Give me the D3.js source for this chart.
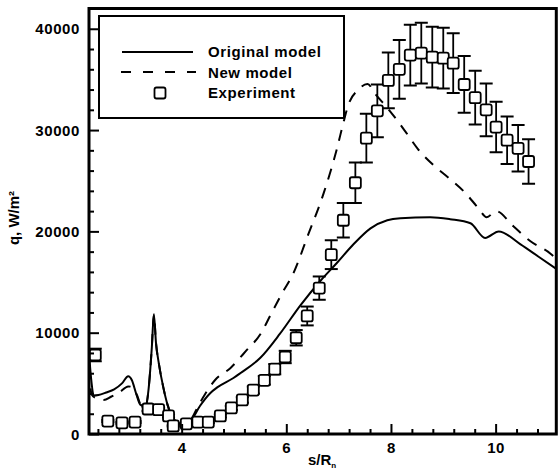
<!DOCTYPE html>
<html>
<head>
<meta charset="utf-8">
<script src="https://cdn.jsdelivr.net/npm/d3@7"></script>
<style>
  html, body { margin: 0; padding: 0; background: #fff; }
  svg text { font-family: "Liberation Sans", Arial, Helvetica, sans-serif; font-weight: bold; fill: #000; }
</style>
</head>
<body>
<svg id="chart" width="559" height="472"></svg>
<script>
// Surface heat flux along the body, s/Rn
const originalX = [2.22, 2.26, 2.31, 2.4, 2.55, 2.7, 2.85, 2.97, 3.04, 3.12, 3.2, 3.3, 3.36, 3.42, 3.46, 3.5, 3.56, 3.64, 3.72, 3.8, 3.92, 4.05, 4.18, 4.34, 4.54, 4.67, 4.98, 5.11, 5.49, 5.87, 6.26, 6.64, 6.96, 7.27, 7.6, 7.92, 8.17, 8.74, 9.12, 9.51, 9.79, 10.05, 10.46, 10.84, 11.15];
const originalQ = [8000, 5500, 3800, 3850, 4100, 4400, 5000, 5700, 5300, 4000, 2900, 2700, 4500, 8500, 11800, 9000, 6800, 4600, 2900, 1800, 1100, 900, 1400, 2760, 4050, 4600, 5530, 6000, 7500, 9900, 12700, 15100, 16900, 18700, 20300, 21100, 21300, 21400, 21200, 20800, 19350, 20000, 18750, 17400, 16300];

const newX = [2.22, 2.27, 2.35, 2.5, 2.65, 2.8, 2.97, 3.06, 3.14, 3.22, 3.3, 3.36, 3.42, 3.46, 3.5, 3.56, 3.64, 3.72, 3.8, 3.92, 4.05, 4.18, 4.3, 4.44, 4.63, 4.92, 5.22, 5.51, 5.68, 5.91, 6.12, 6.41, 6.7, 6.96, 7.08, 7.17, 7.37, 7.54, 7.7, 7.92, 8.26, 8.51, 8.8, 9.09, 9.41, 9.66, 9.82, 10.0, 10.33, 10.65, 11.04, 11.15];
const newQ = [6500, 3900, 3550, 3350, 3700, 4100, 4700, 4600, 3800, 2800, 2700, 4500, 8500, 11800, 9000, 6800, 4600, 2900, 1800, 1100, 900, 1500, 2700, 3950, 5330, 6500, 8200, 9970, 11650, 13900, 15800, 19700, 23700, 28200, 30700, 32400, 34000, 34550, 33500, 32200, 29900, 28100, 26550, 25300, 23800, 22300, 21400, 22000, 20500, 19050, 17800, 17300];

const expX = [2.34, 2.58, 2.85, 3.1, 3.35, 3.55, 3.74, 3.83, 4.08, 4.3, 4.5, 4.73, 4.94, 5.15, 5.36, 5.57, 5.77, 5.97, 6.18, 6.39, 6.62, 6.85, 7.08, 7.31, 7.52, 7.73, 7.94, 8.15, 8.36, 8.57, 8.78, 8.99, 9.18, 9.39, 9.6, 9.81, 10.0, 10.21, 10.42, 10.62];
const expQ = [7800, 1280, 1100, 1180, 2470, 2400, 1780, 800, 1000, 1180, 1180, 1780, 2570, 3360, 4340, 5300, 6400, 7600, 9500, 11650, 14400, 17700, 21100, 24800, 29200, 31900, 34900, 36000, 37400, 37600, 37200, 37100, 36600, 34500, 33200, 32000, 30300, 29000, 28200, 26900];
const expErr = [620, 100, 90, 95, 200, 190, 140, 65, 80, 95, 95, 140, 205, 270, 350, 425, 510, 610, 760, 930, 1150, 1420, 1700, 2000, 2400, 2600, 2750, 2900, 3000, 3000, 3000, 3000, 2950, 2800, 2650, 2600, 2500, 2350, 2300, 2200];

const yMajor = [0, 10000, 20000, 30000, 40000];
const xMajor = [4, 6, 8, 10];
const legendLabels = ["Original model", "New model", "Experiment"];

const svg = d3.select("#chart");
const x = d3.scaleLinear().domain([2.22, 11.15]).range([89, 556.3]);
const y = d3.scaleLinear().domain([0, 42000]).range([434, 8.5]);

const plot = svg.append("g");
svg.append("clipPath").attr("id", "plotclip")
  .append("rect").attr("x", x(2.22)).attr("y", y(42000))
  .attr("width", x(11.15) - x(2.22)).attr("height", y(0) - y(42000));

const marks = plot.append("g").attr("clip-path", "url(#plotclip)");

const curve = d3.line().x(d => x(d[0])).y(d => y(d[1])).curve(d3.curveMonotoneX);

marks.append("path")
  .datum(originalX.map((v, i) => [v, originalQ[i]]))
  .attr("d", curve)
  .attr("fill", "none").attr("stroke", "#000").attr("stroke-width", 2);

marks.append("path")
  .datum(newX.map((v, i) => [v, newQ[i]]))
  .attr("d", curve)
  .attr("fill", "none").attr("stroke", "#000").attr("stroke-width", 2)
  .attr("stroke-dasharray", "11,9");

// error bars
const exp = expX.map((v, i) => ({ s: v, q: expQ[i], e: expErr[i] }));
const eb = marks.append("g").selectAll("g").data(exp).join("g");
eb.append("line")
  .attr("x1", d => x(d.s)).attr("x2", d => x(d.s))
  .attr("y1", d => y(d.q + d.e)).attr("y2", d => y(d.q - d.e))
  .attr("stroke", "#000").attr("stroke-width", 1.8);
eb.append("line")
  .attr("x1", d => x(d.s) - 6.5).attr("x2", d => x(d.s) + 6.5)
  .attr("y1", d => y(d.q + d.e)).attr("y2", d => y(d.q + d.e))
  .attr("stroke", "#000").attr("stroke-width", 2);
eb.append("line")
  .attr("x1", d => x(d.s) - 6.5).attr("x2", d => x(d.s) + 6.5)
  .attr("y1", d => y(d.q - d.e)).attr("y2", d => y(d.q - d.e))
  .attr("stroke", "#000").attr("stroke-width", 2);

// experiment squares
const sq = 11;
marks.append("g").selectAll("rect").data(exp).join("rect")
  .attr("x", d => x(d.s) - sq / 2).attr("y", d => y(d.q) - sq / 2)
  .attr("width", sq).attr("height", sq).attr("rx", 2)
  .attr("fill", "#fff").attr("stroke", "#000").attr("stroke-width", 1.8);

// frame
plot.append("rect")
  .attr("x", x(2.22)).attr("y", y(42000))
  .attr("width", x(11.15) - x(2.22)).attr("height", y(0) - y(42000))
  .attr("fill", "none").attr("stroke", "#000").attr("stroke-width", 3);

// y axis ticks (inward)
const yAxis = d3.axisRight(y)
  .tickValues(d3.range(0, 42001, 2000))
  .tickSize(0).tickFormat("");
const gy = plot.append("g").attr("transform", `translate(${x(2.22)},0)`).call(yAxis);
gy.select(".domain").remove();
gy.selectAll(".tick").append("line")
  .attr("x1", 0).attr("x2", d => yMajor.includes(d) ? 10 : 5)
  .attr("stroke", "#000").attr("stroke-width", 2);
plot.append("g").selectAll("text").data(yMajor).join("text")
  .attr("x", 80).attr("y", d => y(d) + 5.5)
  .attr("text-anchor", "end")
  .style("font-size", "15px").style("letter-spacing", "0.6px")
  .text(d => d);

// x axis ticks (inward)
const xMinor = d3.range(2.4, 11.15, 0.4).map(v => +v.toFixed(2));
const gx = plot.append("g");
gx.selectAll("line").data(xMinor).join("line")
  .attr("x1", d => x(d)).attr("x2", d => x(d))
  .attr("y1", y(0))
  .attr("y2", d => xMajor.some(m => Math.abs(m - d) < 1e-6) ? y(0) - 10 : y(0) - 5)
  .attr("stroke", "#000").attr("stroke-width", 2);
gx.selectAll("text").data(xMajor).join("text")
  .attr("x", d => x(d)).attr("y", 453)
  .attr("text-anchor", "middle")
  .style("font-size", "15px").style("letter-spacing", "0.6px")
  .text(d => d);

// axis titles
const xt = svg.append("text").attr("x", 308).attr("y", 465).style("font-size", "15px");
xt.append("tspan").text("s/R");
xt.append("tspan").attr("dy", 3).style("font-size", "8px").text("n");

svg.append("text")
  .attr("transform", "translate(19,218) rotate(-90)")
  .attr("text-anchor", "middle")
  .style("font-size", "15px")
  .text("q, W/m²");

// legend
const lg = svg.append("g");
lg.append("rect").attr("x", 99).attr("y", 16).attr("width", 245).attr("height", 102)
  .attr("fill", "#fff").attr("stroke", "#000").attr("stroke-width", 2);
lg.append("line").attr("x1", 122).attr("x2", 193).attr("y1", 52).attr("y2", 52)
  .attr("stroke", "#000").attr("stroke-width", 2);
lg.append("line").attr("x1", 121).attr("x2", 196).attr("y1", 72).attr("y2", 72)
  .attr("stroke", "#000").attr("stroke-width", 2).attr("stroke-dasharray", "10,12");
lg.append("rect").attr("x", 160 - sq / 2).attr("y", 93 - sq / 2)
  .attr("width", sq).attr("height", sq).attr("rx", 2)
  .attr("fill", "#fff").attr("stroke", "#000").attr("stroke-width", 1.8);
lg.selectAll("text.lab").data(legendLabels).join("text").attr("class", "lab")
  .attr("x", 208).attr("y", (d, i) => 57 + i * 20.5)
  .style("font-size", "15px").style("letter-spacing", "0.6px")
  .text(d => d);
</script>
</body>
</html>
